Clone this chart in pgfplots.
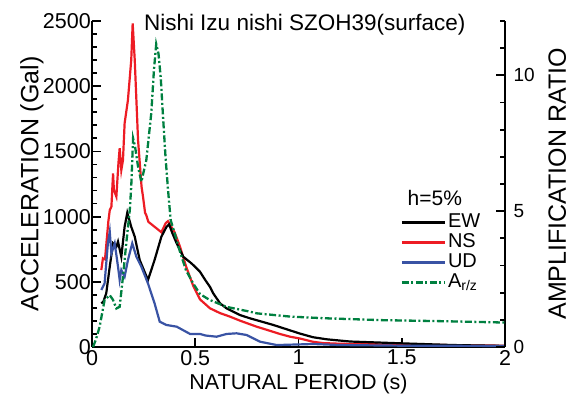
\documentclass[border=0pt]{standalone}
\usepackage{pgfplots}
\pgfplotsset{compat=1.18}
\usepackage{fontspec}
\setmainfont{Liberation Sans}
\definecolor{cred}{RGB}{237,28,36}
\definecolor{cblue}{RGB}{57,83,164}
\definecolor{cgreen}{RGB}{0,128,64}
\begin{document}
\begin{tikzpicture}
\path[use as bounding box] (-92pt,-58pt) rectangle (482pt,347pt);
\begin{axis}[
  scale only axis, width=413pt, height=326pt,
  xmin=0, xmax=2, ymin=0, ymax=2500,
  axis x line*=bottom, axis y line*=left,
  axis line style={line width=2.2pt, -},
  tick align=inside,
  major tick length=9pt, minor tick length=5pt,
  every tick/.style={line width=1.8pt, black},
  xtick={0,0.5,1,1.5,2},
  ytick={0,500,1000,1500,2000,2500},
  minor ytick={100,200,...,2400},
  /pgf/number format/assume math mode=true,
  /pgf/number format/1000 sep={},
  tick label style={font=\fontsize{21.5}{23}\selectfont},
  xticklabel style={yshift=-3pt, inner ysep=0pt},
  yticklabel style={xshift=-1pt, inner sep=0pt},
  xlabel style={font=\fontsize{21.5}{23}\selectfont, inner ysep=0pt, at={(axis description cs:0.5,0)}, anchor=center, yshift=-37pt},
  ylabel style={font=\fontsize{25}{28}\selectfont, yshift=-4pt},
  xlabel={NATURAL PERIOD (s)},
  ylabel={ACCELERATION (Gal)},
  clip=false,
]
\addplot[cred, line width=2.2pt] coordinates {
(0.045,590)(0.053,680)(0.063,672)(0.079,960)(0.086,1050)(0.094,1076)(0.102,1332)(0.106,1204)(0.118,1153)(0.128,1409)(0.134,1524)(0.142,1357)(0.15,1434)(0.158,1716)(0.174,1894)(0.19,2200)(0.197,2482)(0.207,2200)(0.223,1587)(0.24,1229)(0.247,1153)(0.257,1030)(0.263,1010)(0.273,960)(0.303,922)(0.336,880)(0.357,950)(0.368,965)(0.4,880)(0.426,770)(0.455,620)(0.49,470)(0.523,365)(0.555,320)(0.571,297)(0.62,260)(0.668,233)(0.72,200)(0.797,156)(0.85,130)(0.91,100)(0.959,79)(1.007,65)(1.07,40)(1.12,30)(1.2,25)(1.3,22)(1.5,18)(1.75,14)(2.0,10)
};
\addplot[black, line width=2.2pt] coordinates {
(0.045,335)(0.055,347)(0.069,412)(0.086,616)(0.102,795)(0.118,769)(0.126,808)(0.142,692)(0.158,922)(0.171,1030)(0.19,922)(0.207,846)(0.231,667)(0.271,514)(0.303,667)(0.336,846)(0.361,922)(0.373,941)(0.39,870)(0.41,795)(0.442,692)(0.475,650)(0.49,629)(0.523,577)(0.55,510)(0.571,462)(0.587,412)(0.62,335)(0.651,297)(0.717,245)(0.765,220)(0.878,169)(1.007,103)(1.07,75)(1.137,59)(1.25,42)(1.5,28)(1.75,15)(2.0,8)
};
\addplot[cblue, line width=2.2pt] coordinates {
(0.045,437)(0.061,488)(0.077,795)(0.086,884)(0.094,718)(0.11,795)(0.126,616)(0.134,514)(0.142,590)(0.158,539)(0.174,667)(0.195,795)(0.215,692)(0.239,616)(0.271,488)(0.303,335)(0.328,194)(0.36,169)(0.41,156)(0.475,100)(0.523,100)(0.55,88)(0.603,79)(0.652,100)(0.7,105)(0.749,92)(0.813,41)(0.894,15)(1.007,20)(1.07,23)(1.2,15)(1.5,10)(2.0,8)
};
\node[font=\fontsize{22.5}{24}\selectfont] at (rel axis cs:0.515,0.99) {Nishi Izu nishi SZOH39(surface)};
\node[font=\fontsize{21}{24}\selectfont] at (rel axis cs:0.83,0.457) {h=5\%};
\end{axis}
\begin{axis}[
  scale only axis, width=413pt, height=326pt,
  xmin=0, xmax=2, ymin=0, ymax=12,
  axis y line*=right, hide x axis,
  axis line style={line width=2.2pt, -},
  tick align=inside,
  major tick length=9pt, minor tick length=5pt,
  every tick/.style={line width=1.8pt, black},
  ytick={0,5,10}, minor ytick={1,2,3,4,6,7,8,9,11,12},
  /pgf/number format/assume math mode=true,
  tick label style={font=\fontsize{19}{21}\selectfont},
  yticklabel style={xshift=5pt},
  ylabel style={font=\fontsize{25}{28}\selectfont, yshift=-7pt},
  ylabel={AMPLIFICATION RATIO},
  legend style={draw=none, fill=none, at={(rel axis cs:0.747,0.41)}, anchor=north west,
    font=\fontsize{20}{21}\selectfont, row sep=2pt, inner sep=0pt,
    nodes={inner xsep=2pt, inner ysep=0pt, text height=14pt, text depth=4pt}},
  legend cell align=left,
  legend image code/.code={\draw[#1] (0pt,0pt) -- (43pt,0pt);},
  clip=false,
]
\addlegendimage{black, line width=2.2pt}
\addlegendentry{EW}
\addlegendimage{cred, line width=2.2pt}
\addlegendentry{NS}
\addlegendimage{cblue, line width=2.2pt}
\addlegendentry{UD}
\addplot[cgreen, line width=2.3pt, dash pattern=on 7pt off 2.5pt on 2pt off 2.5pt] coordinates {
(0.005,0)(0.02,0.3)(0.037,0.75)(0.061,1.73)(0.086,1.91)(0.102,1.73)(0.118,1.42)(0.134,1.48)(0.15,2.59)(0.166,3.82)(0.183,5.04)(0.19,5.9)(0.199,7.68)(0.208,7.4)(0.223,6.64)(0.239,6.08)(0.263,6.88)(0.287,8.6)(0.30,10.2)(0.311,11.15)(0.322,10.8)(0.333,9.9)(0.344,8.48)(0.356,7.0)(0.368,5.8)(0.381,4.67)(0.41,3.94)(0.426,3.51)(0.455,2.83)(0.49,2.34)(0.523,1.95)(0.555,1.8)(0.571,1.73)(0.65,1.48)(0.765,1.3)(0.797,1.24)(0.959,1.12)(1.12,1.06)(1.395,0.99)(1.7,0.95)(2.0,0.9)
};
\addlegendentry{A\textsubscript{r/z}}
\end{axis}
\end{tikzpicture}
\end{document}
